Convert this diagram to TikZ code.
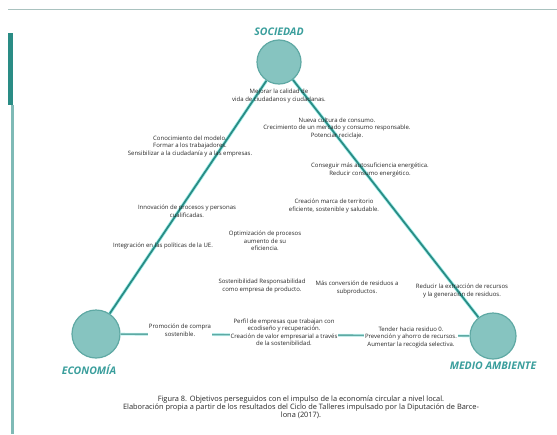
\documentclass[tikz,border=0pt]{standalone}
\usepackage{fontspec}
\setmainfont{Open Sans}
\usetikzlibrary{positioning}
\definecolor{tealdark}{HTML}{2A8C85}
\definecolor{tealfill}{HTML}{86C4C0}
\definecolor{tealedge}{HTML}{5FA9A4}
\definecolor{teallabel}{HTML}{3A9E9C}
\definecolor{glow}{HTML}{A6F0EC}
\definecolor{rulegray}{HTML}{A9C2BF}

\begin{document}
\begin{tikzpicture}[x=1pt, y=-1pt,
  pole/.style = {circle, fill = tealfill, draw = tealedge, line width = 1.2pt, minimum size = 44pt, inner sep = 0pt},
  polename/.style = {text = teallabel, inner sep = 1pt, font = \fontsize{10.5}{12}\selectfont\bfseries\itshape},
  aim/.style = {align = center, inner sep = 1pt, text = black!85, font = \fontsize{6}{7.5}\selectfont},
  aimcover/.style = {aim, fill = white},
  link/.style = {tealdark, line width = 1.8pt, preaction = {draw = glow, line width = 3.4pt}},
  weaklink/.style = {tealdark!75, line width = 1.6pt, preaction = {draw = glow!70, line width = 2.8pt}}]
\useasboundingbox (0,0) rectangle (557,434);
\draw[rulegray, line width = 1pt] (8,9) -- (557,9);
\fill[tealdark] (8,33) rectangle (13,105);
\fill[tealedge!80] (11,105) rectangle (14,434);

\node[pole] (soc) at (279,62) {};
\node[pole, minimum size = 48pt] (eco) at (96,334) {};
\node[pole, minimum size = 46pt] (med) at (493,336) {};
\node[polename, above = 3pt of soc] (socname) {SOCIEDAD};
\node[polename] (econame) at (89,370) {ECONOMÍA};
\node[polename, below = 1pt of med] (medname) {MEDIO AMBIENTE};

\draw[link] (soc) -- (eco);
\draw[link] (soc) -- (med);
\draw[weaklink] (eco) -- (med);

\node[aim] (calidad) at (279,96) {Mejorar la calidad de\\vida de ciudadanos y ciudadanas.};
\node[aim] (consumo) at (337,128) {Nueva cultura de consumo.\\Crecimiento de un mercado y consumo responsable.\\Potenciar reciclaje.};
\node[aim] (modelo) at (190,146) {Conocimiento del modelo.\\Formar a los trabajadores.\\Sensibilizar a la ciudadanía y a las empresas.};
\node[aim] (energia) at (370,170) {Conseguir más autosuficiencia energética.\\Reducir consumo energético.};
\node[aim] (marca) at (334,206) {Creación marca de territorio\\eficiente, sostenible y saludable.};
\node[aim] (innova) at (187,211) {Innovación de procesos y personas\\cualificadas.};
\node[aim] (optimiza) at (265,241) {Optimización de procesos\\aumento de su\\eficiencia.};
\node[aim] (politicas) at (163,246) {Integración en las políticas de la UE.};
\node[aim] (responsab) at (262,286) {Sostenibilidad Responsabilidad\\como empresa de producto.};
\node[aim] (residuos) at (357,288) {Más conversión de residuos a\\subproductos.};
\node[aim] (extraccion) at (462,291) {Reducir la extracción de recursos\\y la generación de residuos.};
\node[aimcover] (compra) at (180,330) {Promoción de compra\\sostenible.};
\node[aimcover] (perfil) at (284,332) {Perfil de empresas que trabajan con\\ecodiseño y recuperación.\\Creación de valor empresarial a través\\de la sostenibilidad.};
\node[aimcover] (tender) at (411,337) {Tender hacia residuo 0.\\Prevención y ahorro de recursos.\\Aumentar la recogida selectiva.};

\node[align = center, text = black!85, font = \fontsize{7.4}{8}\selectfont] (caption) at (301,407) {Figura 8. Objetivos perseguidos con el impulso de la economía circular a nivel local.\\Elaboración propia a partir de los resultados del Ciclo de Talleres impulsado por la Diputación de Barce-\\lona (2017).};
\end{tikzpicture}
\end{document}
